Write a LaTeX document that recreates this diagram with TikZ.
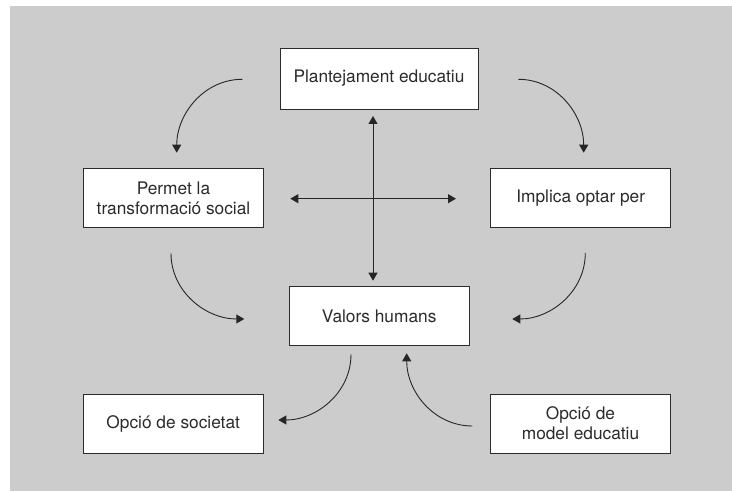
\documentclass[tikz,border=0pt]{standalone}
\usepackage{fontspec}
\setmainfont{TeX Gyre Heros}
\usepackage{xcolor}
\usepackage{tikz}
\usetikzlibrary{arrows.meta, positioning}

\definecolor{bggray}{HTML}{CCCCCC}
\definecolor{inkgray}{HTML}{2B2B2B}

\begin{document}
\begin{tikzpicture}[
        x=1pt, y=1pt,
        every node/.style={font=\fontsize{17.3}{20}\selectfont, text=inkgray},
        box/.style={rectangle, draw=inkgray, fill=white, line width=0.9pt, minimum width=180pt, minimum height=59pt, align=center, inner sep=0pt},
        arrow/.style={-{Triangle[length=8pt, width=9pt]}, line width=0.9pt, draw=black!85},
        twoway/.style={{Triangle[length=8pt, width=9pt]}-{Triangle[length=8pt, width=9pt]}, line width=0.9pt, draw=black!85}
    ]

    % Background
    \useasboundingbox (0,0) rectangle (732,491);
    \fill[bggray] (10,0) rectangle (732,485);

    % Nodes
    \node[box, minimum width=198pt, minimum height=61pt] (plan) at (379,412.5) {Plantejament educatiu};
    \node[box] (permet) at (173.5,293) {Permet la\\transformació social};
    \node[box] (implica) at (580.7,293) {Implica optar per};
    \node[box] (valors) at (379.2,175) {Valors humans};
    \node[box] (societat) at (173.2,67.5) {Opció de societat};
    \node[box] (model) at (580.5,67.5) {Opció de\\model educatiu};

    % Free ends of the curved arrows
    \coordinate (c1s) at (242.3,411.7);
    \coordinate (c1e) at (176.7,338.3);
    \coordinate (c2s) at (518.3,411.7);
    \coordinate (c2e) at (583.7,338.3);
    \coordinate (c3s) at (171,237.7);
    \coordinate (c3e) at (244.3,172);
    \coordinate (c4s) at (585.3,238);
    \coordinate (c4e) at (512.3,172);
    \coordinate (c5s) at (351,136.7);
    \coordinate (c5e) at (278.3,71);
    \coordinate (c6s) at (472.3,65);
    \coordinate (c6e) at (406.7,137.7);

    % Cross in the middle
    \coordinate (vtop) at (373,375);
    \coordinate (vbot) at (373,210.3);
    \coordinate (hleft) at (290.3,292.3);
    \coordinate (hright) at (456,292.3);
    \draw[twoway] (vtop) -- (vbot);
    \draw[twoway] (hleft) -- (hright);

    % Curved arrows
    \draw[arrow] (c1s) to[out=180, in=90] (c1e);
    \draw[arrow] (c2s) to[out=0, in=90] (c2e);
    \draw[arrow] (c3s) to[out=-90, in=180] (c3e);
    \draw[arrow] (c4s) to[out=-90, in=0] (c4e);
    \draw[arrow] (c5s) to[out=-90, in=0] (c5e);
    \draw[arrow] (c6s) to[out=180, in=-90] (c6e);
\end{tikzpicture}
\end{document}
